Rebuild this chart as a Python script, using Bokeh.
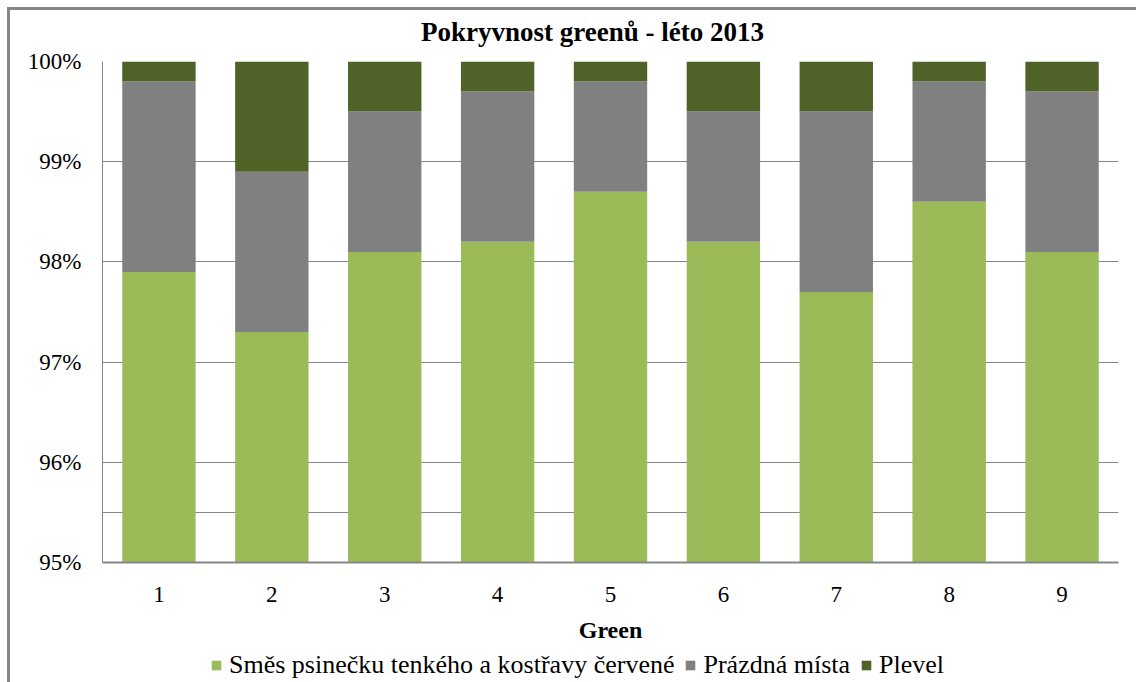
from bokeh.plotting import figure
from bokeh.layouts import column
from bokeh.models import (FactorRange, Range1d, FixedTicker, PrintfTickFormatter,
                          Legend, LegendItem, ColumnDataSource, Label)
from bokeh.embed import file_html
from bokeh.resources import INLINE

greens = ["1", "2", "3", "4", "5", "6", "7", "8", "9"]
smes = [97.9, 97.3, 98.1, 98.2, 98.7, 98.2, 97.7, 98.6, 98.1]
prazdna = [1.9, 1.6, 1.4, 1.5, 1.1, 1.3, 1.8, 1.2, 1.6]
plevel = [0.2, 1.1, 0.5, 0.3, 0.2, 0.5, 0.5, 0.2, 0.3]
series_names = ["Směs psinečku tenkého a kostřavy červené", "Prázdná místa", "Plevel"]
y_ticks = [95, 96, 97, 98, 99, 100]
grid_ticks = [95.5, 96, 97, 98, 99]
title_text = "Pokryvnost greenů - léto 2013"
x_title = "Green"

colors = ["#9BBB59", "#808080", "#4F6228"]
FONT = "Liberation Serif"

source = ColumnDataSource(dict(green=greens, s0=smes, s1=prazdna, s2=plevel))

W = 1126
H_TITLE = 38
H_MAIN = 599
H_LEG = 35
FRAME_L, FRAME_R = 102, 1118   # page x of the plot frame (column aligns all frames)


def strip(height):
    f = figure(x_range=Range1d(FRAME_L, FRAME_R), y_range=Range1d(0, height),
               width=W, height=height, output_backend="svg", toolbar_location=None,
               x_axis_location=None, y_axis_location=None,
               min_border_left=0, min_border_right=0, min_border_top=0, min_border_bottom=0)
    f.grid.visible = False
    f.outline_line_color = None
    f.background_fill_color = "white"
    f.border_fill_color = "white"
    return f


# title strip (page y 10..48)
pt = strip(H_TITLE)
pt.add_layout(Label(x=592, y=H_TITLE - 21.5, text=title_text, text_font=FONT,
                    text_font_size="27px", text_font_style="bold", text_align="center",
                    text_baseline="middle", text_color="black"))

# main chart (page y 48..647, frame 61..562)
p = figure(x_range=FactorRange(*greens, range_padding=0), y_range=Range1d(95, 100),
           width=W, height=H_MAIN, output_backend="svg", toolbar_location=None,
           min_border_left=92, min_border_right=18, min_border_top=13, min_border_bottom=85)
p.outline_line_color = None
p.background_fill_color = "white"
p.border_fill_color = "white"

rs = p.vbar_stack(["s0", "s1", "s2"], x="green", width=0.65, color=colors,
                  line_color=None, source=source)

p.yaxis.ticker = FixedTicker(ticks=y_ticks)
p.yaxis.formatter = PrintfTickFormatter(format="%d%%")
p.yaxis.major_tick_line_color = None
p.yaxis.minor_tick_line_color = None
p.yaxis.axis_line_color = "#868686"
p.yaxis.major_label_standoff = 15
p.yaxis.major_label_text_font = FONT
p.yaxis.major_label_text_font_size = "23px"
p.yaxis.major_label_text_color = "black"

p.xaxis.major_tick_line_color = None
p.xaxis.minor_tick_line_color = None
p.xaxis.axis_line_color = "#868686"
p.xaxis.axis_line_width = 2
p.xaxis.major_label_standoff = 18
p.xaxis.major_label_text_font = FONT
p.xaxis.major_label_text_font_size = "23px"
p.xaxis.major_label_text_color = "black"
p.xaxis.axis_label = x_title
p.xaxis.axis_label_text_font = FONT
p.xaxis.axis_label_text_font_size = "24px"
p.xaxis.axis_label_text_font_style = "bold"
p.xaxis.axis_label_text_color = "black"
p.xaxis.axis_label_standoff = 12

p.xgrid.grid_line_color = None
p.ygrid.ticker = FixedTicker(ticks=grid_ticks)
p.ygrid.grid_line_color = "#868686"
p.ygrid.grid_line_width = 1

# legend strip (page y 647..682)
pl = strip(H_LEG)
leg_rs = [pl.vbar(x=[-500], top=[-50], bottom=[-60], width=1, color=c, line_color=None)
          for c in colors]
legend = Legend(items=[LegendItem(label=n, renderers=[r]) for n, r in zip(series_names, leg_rs)],
                location=(108, 2), orientation="horizontal",
                glyph_width=12, glyph_height=12, label_standoff=7, spacing=10,
                padding=0, margin=0, border_line_color=None, background_fill_alpha=0,
                label_text_font=FONT, label_text_font_size="26px", label_text_color="black",
                label_height=26)
pl.add_layout(legend, "center")

layout = column(pt, p, pl, spacing=0,
                styles={"margin-left": "7px", "margin-top": "7px",
                        "border-left": "3px solid #868686", "border-top": "3px solid #868686"})

open("out.html", "w").write(file_html(layout, INLINE))
